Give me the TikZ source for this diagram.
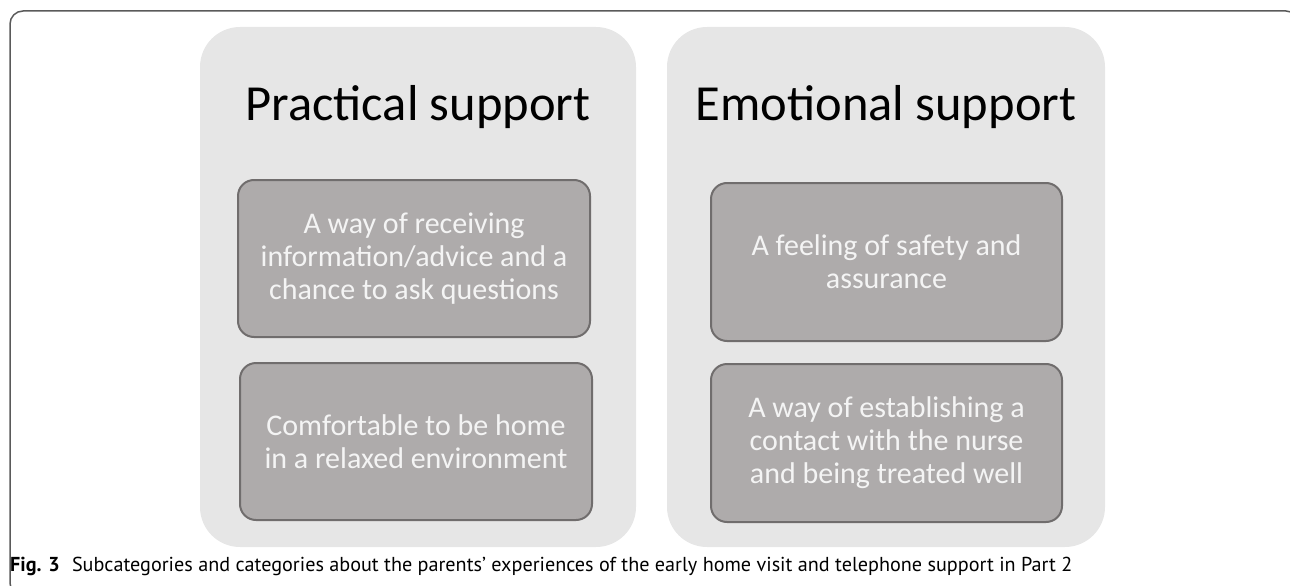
\documentclass[tikz,border=0pt]{standalone}
\usepackage{fontspec}
\setmainfont{Carlito}
\newfontfamily\capfont{PT Sans}
\definecolor{panelgray}{HTML}{E6E6E6}
\definecolor{boxgray}{HTML}{AEABAB}
\definecolor{boxline}{HTML}{706D6D}
\definecolor{boxtext}{HTML}{F4F4F4}
\definecolor{framegray}{HTML}{5A5A5A}
\begin{document}
\begin{tikzpicture}[x=1pt,y=-1pt,
  panel/.style={fill=panelgray, draw=none, rounded corners=40pt, inner sep=0pt},
  subbox/.style={fill=boxgray, draw=boxline, line width=2pt, rounded corners=16pt,
     minimum width=352pt, minimum height=157pt, text=boxtext, align=center,
     font=\fontsize{30}{33}\selectfont, inner sep=0pt},
  title/.style={anchor=base, font=\fontsize{50.5}{60}\selectfont, text=black, inner sep=0pt},
  captext/.style={anchor=base west, inner sep=0pt, font=\capfont}
]
\useasboundingbox (0,0) rectangle (1290,586);
\begin{scope}
\clip (0,0) rectangle (1290,586);
\draw[framegray, line width=1.5pt, rounded corners=13pt] (10,11) rectangle (1299,596);
\end{scope}
\node[panel, minimum width=436pt, minimum height=520pt] (pl) at (418,287) {};
\node[panel, minimum width=438pt, minimum height=520pt] (pr) at (886,287) {};
\node[title] (tl) at (418,120) {Practical support};
\node[title] (tr) at (886,120) {Emotional support};
\node[subbox] (l1) at (414,258.5) {A way of receiving\\information/advice and a\\chance to ask questions};
\node[subbox] (l2) at (416,441.5) {Comfortable to be home\\in a relaxed environment};
\node[subbox, minimum width=351pt, minimum height=158pt] (r1) at (886.5,262) {A feeling of safety and\\assurance};
\node[subbox, minimum width=351pt, minimum height=158pt] (r2) at (886.5,443) {A way of establishing a\\contact with the nurse\\and being treated well};
\node[captext] (caption) at (10,571) {\resizebox{1062pt}{!}{\textbf{Fig. 3}\hspace{0.6em}Subcategories and categories about the parents’ experiences of the early home visit and telephone support in Part 2}};
\end{tikzpicture}
\end{document}
